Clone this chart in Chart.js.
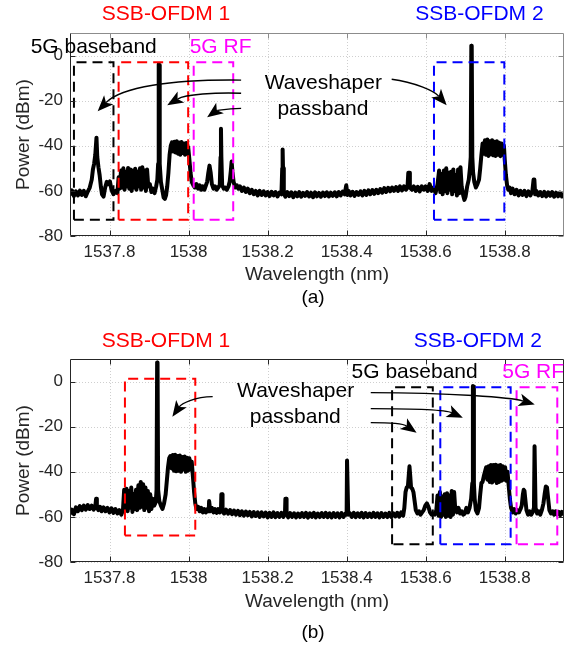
<!DOCTYPE html>
<html>
<head>
<meta charset="utf-8">
<script src="https://cdn.jsdelivr.net/npm/chart.js@4/dist/chart.umd.min.js"></script>
<style>
  html, body { margin: 0; padding: 0; background: #ffffff; }
  #wrap { position: relative; width: 569px; height: 647px; background: #ffffff; }
  canvas { position: absolute; left: 0; }
</style>
</head>
<body>
<div id="wrap">
  <canvas id="chartA" width="569" height="320" style="top:0px"></canvas>
  <canvas id="chartB" width="569" height="327" style="top:320px"></canvas>
</div>
<script>
// ---------------- DATA ----------------
const xTicks = [1537.8, 1538, 1538.2, 1538.4, 1538.6, 1538.8];
const yTicks = [-80, -60, -40, -20, 0];
const xRange = [1537.7, 1538.95];
const yRange = [-80, 10];

// Spectrum (a): [wavelength nm, power dBm]
const spectrumA = [
[1537.700,-61.5],[1537.705,-59.8],[1537.710,-62.3],[1537.715,-60.2],[1537.720,-62.0],[1537.725,-59.9],[1537.730,-61.8],[1537.735,-60.0],[1537.740,-62.4],[1537.745,-60.3],
[1537.750,-58.5],[1537.755,-55.0],[1537.758,-50.5],[1537.761,-48.0],[1537.764,-44.0],[1537.767,-36.4],[1537.769,-45.0],[1537.772,-49.5],[1537.775,-53.0],[1537.778,-58.0],
[1537.781,-61.5],[1537.785,-62.5],[1537.789,-58.5],[1537.793,-56.0],[1537.797,-57.0],[1537.801,-55.8],[1537.805,-59.5],[1537.810,-61.5],[1537.815,-60.0],[1537.820,-61.0],
[1537.823,-54.0],[1537.826,-59.0],[1537.829,-51.0],[1537.832,-58.5],[1537.835,-50.0],[1537.838,-59.5],[1537.841,-51.5],[1537.844,-58.0],[1537.847,-49.8],[1537.850,-59.0],
[1537.853,-50.5],[1537.856,-60.0],[1537.859,-51.0],[1537.862,-58.5],[1537.865,-50.2],[1537.868,-59.5],[1537.871,-51.5],[1537.874,-58.0],[1537.877,-50.0],[1537.880,-59.5],
[1537.883,-49.5],[1537.886,-58.5],[1537.889,-51.0],[1537.892,-60.0],[1537.895,-50.5],[1537.898,-58.0],[1537.902,-57.0],[1537.906,-60.5],[1537.910,-59.0],[1537.914,-61.0],
[1537.918,-58.0],[1537.921,-55.0],[1537.923,-48.0],[1537.9245,-3.8],[1537.9255,-4.2],[1537.927,-48.0],[1537.930,-56.0],[1537.934,-60.0],[1537.937,-63.0],[1537.940,-63.5],
[1537.943,-62.0],[1537.946,-58.0],[1537.949,-52.0],[1537.952,-44.0],[1537.955,-40.0],[1537.958,-38.5],
[1537.961,-42.5],[1537.964,-38.2],[1537.967,-43.0],[1537.970,-38.0],[1537.973,-43.5],[1537.976,-38.5],[1537.979,-44.0],[1537.982,-38.3],[1537.985,-43.2],[1537.988,-39.0],
[1537.991,-44.0],[1537.994,-38.8],[1537.997,-43.5],[1537.999,-40.5],[1538.002,-46.0],[1538.005,-52.0],[1538.008,-56.0],[1538.012,-57.5],[1538.016,-58.5],[1538.020,-57.0],
[1538.024,-59.0],[1538.028,-57.5],[1538.032,-59.5],[1538.036,-58.0],[1538.040,-59.5],[1538.044,-57.5],[1538.047,-56.0],[1538.050,-52.0],[1538.053,-48.8],[1538.056,-52.0],
[1538.059,-57.0],[1538.063,-59.0],[1538.067,-58.0],[1538.071,-59.5],[1538.075,-58.5],[1538.079,-57.5],[1538.081,-45.0],[1538.082,-32.5],[1538.083,-45.0],[1538.085,-57.5],
[1538.089,-59.0],[1538.093,-58.5],[1538.097,-59.5],[1538.101,-58.0],[1538.104,-56.0],[1538.107,-51.0],[1538.109,-47.0],[1538.111,-51.5],[1538.114,-56.0],[1538.118,-58.5],
[1538.122,-57.5],[1538.126,-59.0],[1538.130,-58.0],[1538.135,-60.0],[1538.140,-58.5],[1538.145,-60.5],[1538.150,-59.0],[1538.155,-61.0],[1538.160,-59.5],[1538.165,-61.5],
[1538.170,-60.0],[1538.175,-62.0],[1538.180,-60.0],[1538.185,-61.8],[1538.190,-60.2],[1538.195,-62.0],[1538.200,-60.5],[1538.205,-62.3],[1538.210,-60.4],[1538.215,-62.0],
[1538.220,-60.5],[1538.225,-62.5],[1538.230,-60.8],[1538.235,-61.5],[1538.237,-50.0],[1538.238,-41.6],[1538.239,-50.0],[1538.241,-61.0],[1538.245,-62.6],[1538.250,-60.5],
[1538.255,-62.3],[1538.260,-60.6],[1538.265,-62.8],[1538.270,-60.8],[1538.275,-62.4],[1538.280,-60.5],[1538.285,-62.6],[1538.290,-60.9],[1538.295,-62.2],[1538.300,-60.5],
[1538.305,-62.5],[1538.310,-60.8],[1538.315,-62.8],[1538.320,-60.6],[1538.325,-62.4],[1538.330,-60.9],[1538.335,-62.6],[1538.340,-60.7],[1538.345,-62.3],[1538.350,-60.6],
[1538.355,-62.5],[1538.360,-60.8],[1538.365,-62.2],[1538.370,-60.6],[1538.375,-62.4],[1538.380,-60.5],[1538.385,-62.0],[1538.390,-60.3],[1538.395,-61.5],[1538.399,-57.5],
[1538.402,-61.8],[1538.405,-60.0],[1538.410,-62.0],[1538.415,-60.4],[1538.420,-62.2],[1538.425,-60.5],[1538.430,-61.8],[1538.435,-60.2],[1538.440,-62.0],[1538.445,-60.0],
[1538.450,-61.8],[1538.455,-59.8],[1538.460,-61.5],[1538.465,-59.6],[1538.470,-61.3],[1538.475,-59.5],[1538.480,-61.0],[1538.485,-59.2],[1538.490,-60.8],[1538.495,-58.8],
[1538.500,-60.5],[1538.505,-58.6],[1538.510,-60.2],[1538.515,-58.5],[1538.520,-60.0],[1538.525,-58.3],[1538.530,-60.0],[1538.535,-58.0],[1538.540,-59.8],[1538.545,-58.0],
[1538.550,-59.5],[1538.554,-58.5],[1538.556,-52.0],[1538.558,-52.0],[1538.560,-58.5],[1538.565,-59.5],[1538.570,-58.0],[1538.575,-60.0],[1538.580,-58.2],[1538.585,-60.2],
[1538.590,-58.0],[1538.595,-59.5],[1538.600,-58.0],[1538.605,-60.0],[1538.610,-57.0],[1538.615,-60.0],[1538.620,-58.5],[1538.625,-61.0],[1538.630,-57.0],[1538.634,-51.0],
[1538.637,-60.5],[1538.640,-52.5],[1538.643,-61.5],[1538.646,-51.0],[1538.649,-60.0],[1538.652,-50.0],[1538.655,-61.0],[1538.658,-52.0],[1538.661,-59.5],[1538.664,-51.5],
[1538.667,-61.5],[1538.670,-50.5],[1538.673,-60.0],[1538.676,-53.0],[1538.679,-62.0],[1538.682,-50.5],[1538.685,-61.0],[1538.688,-49.5],[1538.691,-58.0],[1538.695,-62.0],
[1538.698,-64.0],[1538.701,-62.5],[1538.705,-58.0],[1538.709,-55.0],[1538.712,-50.0],[1538.714,-45.0],[1538.7155,4.4],[1538.7165,4.2],[1538.718,-45.0],[1538.720,-52.0],
[1538.723,-56.0],[1538.727,-58.5],[1538.731,-57.0],[1538.735,-55.0],[1538.738,-50.0],[1538.741,-44.0],[1538.744,-39.0],
[1538.747,-43.5],[1538.750,-37.5],[1538.753,-44.0],[1538.756,-37.2],[1538.759,-44.5],[1538.762,-38.0],[1538.765,-43.8],[1538.768,-37.5],[1538.771,-44.2],[1538.774,-38.2],
[1538.777,-44.5],[1538.780,-38.0],[1538.783,-44.0],[1538.786,-38.6],[1538.789,-44.6],[1538.792,-39.0],[1538.795,-44.0],[1538.798,-40.0],[1538.800,-46.0],[1538.803,-53.0],
[1538.806,-57.5],[1538.809,-59.5],[1538.812,-58.5],[1538.816,-61.0],[1538.820,-59.0],[1538.825,-61.5],[1538.830,-59.5],[1538.835,-62.0],[1538.840,-60.0],[1538.845,-61.8],
[1538.850,-60.0],[1538.855,-62.3],[1538.860,-60.2],[1538.865,-62.0],[1538.870,-60.0],[1538.873,-55.0],[1538.875,-55.0],[1538.877,-61.5],[1538.880,-60.0],[1538.885,-62.0],
[1538.890,-60.5],[1538.895,-62.3],[1538.900,-60.4],[1538.905,-62.5],[1538.910,-60.6],[1538.915,-62.2],[1538.920,-60.5],[1538.925,-62.6],[1538.930,-60.8],[1538.935,-62.4],
[1538.940,-60.7],[1538.945,-62.5],[1538.950,-61.3]
];

// Spectrum (b): [wavelength nm, power dBm]
const spectrumB = [
[1537.700,-58.5],[1537.705,-56.8],[1537.710,-58.8],[1537.715,-55.8],[1537.720,-57.5],[1537.725,-55.2],[1537.730,-57.0],[1537.735,-55.0],[1537.740,-56.8],[1537.745,-54.8],
[1537.750,-56.5],[1537.755,-55.0],[1537.760,-56.8],[1537.764,-55.5],[1537.766,-52.0],[1537.768,-55.8],[1537.772,-57.0],[1537.776,-55.5],[1537.780,-57.5],[1537.785,-55.8],
[1537.790,-57.5],[1537.795,-56.0],[1537.800,-58.0],[1537.805,-56.2],[1537.810,-58.2],[1537.815,-56.5],[1537.820,-58.5],[1537.825,-57.0],[1537.830,-59.0],[1537.834,-57.0],
[1537.837,-48.0],[1537.840,-56.5],[1537.843,-47.5],[1537.846,-57.5],[1537.849,-48.5],[1537.852,-56.0],[1537.855,-47.0],[1537.858,-57.8],[1537.861,-50.0],[1537.864,-56.5],
[1537.867,-48.0],[1537.870,-57.0],[1537.873,-46.0],[1537.876,-56.0],[1537.879,-44.5],[1537.882,-55.5],[1537.885,-45.5],[1537.888,-57.0],[1537.891,-47.0],[1537.894,-56.0],
[1537.897,-48.5],[1537.900,-57.5],[1537.903,-50.0],[1537.906,-56.5],[1537.909,-52.0],[1537.913,-55.0],[1537.917,-53.5],[1537.919,-48.0],[1537.9205,8.5],[1537.9215,8.3],
[1537.923,-48.0],[1537.926,-53.0],[1537.930,-55.0],[1537.934,-56.5],[1537.938,-54.0],[1537.942,-50.0],[1537.945,-44.0],[1537.948,-38.0],[1537.951,-34.0],[1537.954,-33.0],
[1537.957,-38.5],[1537.960,-32.6],[1537.963,-39.5],[1537.966,-32.4],[1537.969,-39.8],[1537.972,-33.0],[1537.975,-39.5],[1537.978,-32.8],[1537.981,-40.0],[1537.984,-33.5],
[1537.987,-39.0],[1537.990,-33.2],[1537.993,-40.0],[1537.996,-33.8],[1537.999,-39.5],[1538.002,-34.0],[1538.005,-39.0],[1538.008,-35.5],[1538.011,-42.0],[1538.014,-49.0],
[1538.017,-54.0],[1538.020,-56.5],[1538.024,-55.5],[1538.028,-57.5],[1538.032,-56.0],[1538.036,-58.0],[1538.040,-56.5],[1538.044,-58.0],[1538.048,-56.5],[1538.051,-57.5],
[1538.052,-53.0],[1538.054,-53.0],[1538.055,-57.5],[1538.059,-56.0],[1538.063,-58.0],[1538.067,-56.5],[1538.071,-58.2],[1538.075,-56.5],[1538.079,-58.0],[1538.082,-57.0],
[1538.083,-50.0],[1538.085,-50.0],[1538.086,-57.5],[1538.090,-58.5],[1538.095,-56.8],[1538.100,-58.6],[1538.105,-57.0],[1538.110,-58.8],[1538.115,-57.2],[1538.120,-59.0],
[1538.125,-57.3],[1538.130,-59.2],[1538.135,-57.5],[1538.140,-59.5],[1538.145,-57.6],[1538.150,-59.3],[1538.155,-57.8],[1538.160,-59.8],[1538.165,-57.9],[1538.170,-59.6],
[1538.175,-58.0],[1538.180,-60.0],[1538.185,-58.0],[1538.190,-59.8],[1538.195,-58.1],[1538.200,-60.2],[1538.205,-58.2],[1538.210,-60.0],[1538.215,-58.0],[1538.220,-60.1],
[1538.225,-58.3],[1538.230,-60.0],[1538.235,-58.2],[1538.240,-60.0],[1538.244,-58.5],[1538.245,-52.0],[1538.247,-52.0],[1538.248,-58.5],[1538.252,-60.2],[1538.257,-58.3],
[1538.262,-60.0],[1538.267,-58.4],[1538.272,-60.2],[1538.277,-58.5],[1538.282,-60.1],[1538.287,-58.3],[1538.292,-60.0],[1538.297,-58.2],[1538.302,-60.3],[1538.307,-58.4],
[1538.312,-60.0],[1538.317,-58.2],[1538.322,-60.2],[1538.327,-58.5],[1538.332,-60.1],[1538.337,-58.3],[1538.342,-60.0],[1538.347,-58.2],[1538.352,-60.1],[1538.357,-58.4],
[1538.362,-60.2],[1538.367,-58.3],[1538.372,-60.0],[1538.377,-58.4],[1538.382,-60.2],[1538.387,-58.3],[1538.392,-60.0],[1538.397,-58.5],[1538.400,-59.0],[1538.401,-35.0],
[1538.403,-35.0],[1538.404,-59.0],[1538.408,-58.3],[1538.413,-60.0],[1538.418,-58.2],[1538.423,-60.1],[1538.428,-58.4],[1538.433,-60.0],[1538.438,-58.2],[1538.443,-60.2],
[1538.448,-58.3],[1538.453,-60.0],[1538.458,-58.5],[1538.463,-60.1],[1538.468,-58.2],[1538.473,-60.0],[1538.478,-58.4],[1538.483,-60.2],[1538.488,-58.3],[1538.493,-60.0],
[1538.498,-58.5],[1538.503,-60.1],[1538.508,-58.2],[1538.513,-60.0],[1538.518,-58.4],[1538.523,-59.8],[1538.528,-58.2],[1538.533,-59.9],[1538.538,-58.0],[1538.543,-59.5],
[1538.546,-56.0],[1538.549,-49.0],[1538.552,-47.0],[1538.555,-46.5],[1538.557,-42.0],[1538.559,-37.6],[1538.561,-42.0],[1538.563,-47.0],[1538.566,-47.5],[1538.569,-49.0],
[1538.572,-53.0],[1538.575,-57.0],[1538.579,-58.5],[1538.583,-57.5],[1538.587,-59.0],[1538.591,-58.0],[1538.595,-57.0],[1538.599,-55.0],[1538.603,-54.0],[1538.607,-55.5],
[1538.611,-58.0],[1538.615,-59.0],[1538.619,-58.5],[1538.623,-59.0],[1538.627,-57.0],
[1538.630,-50.5],[1538.633,-59.5],[1538.636,-49.0],[1538.639,-60.0],[1538.642,-51.0],[1538.645,-59.0],[1538.648,-50.0],[1538.651,-60.0],[1538.654,-49.5],[1538.657,-59.5],
[1538.660,-50.5],[1538.663,-60.0],[1538.666,-48.5],[1538.669,-59.0],[1538.672,-49.0],[1538.675,-57.0],[1538.679,-58.0],[1538.683,-56.0],[1538.687,-58.5],[1538.691,-57.5],
[1538.695,-59.0],[1538.699,-58.5],[1538.703,-56.0],[1538.707,-58.0],[1538.711,-56.0],[1538.715,-52.0],[1538.718,-45.0],[1538.7195,-2.0],[1538.7205,-2.2],[1538.722,-45.0],
[1538.724,-52.0],[1538.727,-57.0],[1538.731,-58.5],[1538.735,-56.0],[1538.738,-50.0],[1538.741,-45.0],[1538.744,-44.5],[1538.747,-42.0],[1538.750,-40.0],[1538.753,-38.0],
[1538.756,-43.5],[1538.759,-37.5],[1538.762,-44.5],[1538.765,-37.0],[1538.768,-44.8],[1538.771,-37.0],[1538.774,-44.0],[1538.777,-36.9],[1538.780,-45.0],[1538.783,-37.2],
[1538.786,-44.5],[1538.789,-37.0],[1538.792,-44.0],[1538.795,-37.5],[1538.798,-43.5],[1538.801,-38.0],[1538.804,-44.0],[1538.807,-40.0],[1538.810,-46.0],[1538.813,-52.0],
[1538.816,-56.0],[1538.820,-58.0],[1538.824,-56.5],[1538.828,-58.5],[1538.832,-57.0],[1538.836,-58.0],[1538.840,-56.5],[1538.843,-55.0],[1538.846,-50.0],[1538.848,-48.0],
[1538.850,-48.5],[1538.852,-52.0],[1538.855,-57.0],[1538.859,-59.0],[1538.863,-57.5],[1538.867,-59.0],[1538.871,-57.8],[1538.874,-56.0],[1538.8755,-28.7],[1538.8765,-28.7],
[1538.878,-56.0],[1538.882,-58.5],[1538.886,-57.5],[1538.890,-59.0],[1538.894,-57.0],[1538.898,-54.0],[1538.901,-50.0],[1538.904,-46.5],[1538.907,-47.0],[1538.910,-52.0],
[1538.913,-57.0],[1538.917,-58.5],[1538.921,-57.5],[1538.925,-59.0],[1538.929,-57.5],[1538.933,-59.0],[1538.937,-57.8],[1538.941,-59.2],[1538.945,-57.8],[1538.950,-58.8]
];

// Waveshaper passband boxes: [xStart, xEnd, yBottom, yTop, colour]
const boxesA = [
  [1537.710, 1537.810, -72.8, -3.0, '#000000'],
  [1537.823, 1537.999, -72.8, -3.0, '#ff0000'],
  [1538.013, 1538.113, -72.8, -3.0, '#ff00ff'],
  [1538.621, 1538.799, -72.8, -3.0, '#0000ff']
];
const boxesB = [
  [1537.839, 1538.017, -68.3, 1.2, '#ff0000'],
  [1538.515, 1538.618, -72.1, -2.5, '#000000'],
  [1538.637, 1538.815, -72.1, -2.5, '#0000ff'],
  [1538.830, 1538.933, -72.1, -2.5, '#ff00ff']
];

// Text annotations: [text, x (nm), y (dBm), colour, align]
const labelsA = [
  ['SSB-OFDM 1', 1537.943, 18.5, '#ff0000', 'center'],
  ['SSB-OFDM 2', 1538.736, 18.5, '#0000ff', 'center'],
  ['5G baseband', 1537.760, 3.9, '#000000', 'center'],
  ['5G RF', 1538.081, 3.9, '#ff00ff', 'center'],
  ['Waveshaper', 1538.341, -12.2, '#000000', 'center'],
  ['passband', 1538.340, -23.8, '#000000', 'center']
];
const labelsB = [
  ['SSB-OFDM 1', 1537.943, 17.9, '#ff0000', 'center'],
  ['SSB-OFDM 2', 1538.732, 17.9, '#0000ff', 'center'],
  ['5G baseband', 1538.572, 4.3, '#000000', 'center'],
  ['5G RF', 1538.872, 4.3, '#ff00ff', 'center'],
  ['Waveshaper', 1538.271, -4.4, '#000000', 'center'],
  ['passband', 1538.270, -16.0, '#000000', 'center']
];

// Arrows: bezier [start, control1, control2, tip] in (nm, dBm)
const arrowsA = [
  [[1538.133,-10.9],[1537.955,-10.5],[1537.829,-14.0],[1537.770,-24.7]],
  [[1538.133,-16.7],[1538.068,-16.3],[1537.992,-17.2],[1537.946,-22.0]],
  [[1538.133,-23.4],[1538.093,-23.4],[1538.068,-24.7],[1538.047,-27.4]],
  [[1538.514,-10.5],[1538.572,-11.8],[1538.622,-15.8],[1538.653,-22.0]]
];
const arrowsB = [
  [[1538.061,-6.7],[1538.015,-6.7],[1537.982,-9.8],[1537.959,-15.6]],
  [[1538.461,-4.9],[1538.666,-4.9],[1538.818,-7.1],[1538.876,-10.2]],
  [[1538.461,-12.0],[1538.585,-12.0],[1538.648,-12.4],[1538.694,-16.0]],
  [[1538.461,-18.2],[1538.522,-18.2],[1538.547,-19.1],[1538.577,-22.7]]
];

// ---------------- RENDERING ----------------
const FONT = "'Liberation Sans', Arial, Helvetica, sans-serif";

function overlayPlugin(cfg) {
  return {
    id: 'overlay_' + cfg.name,
    beforeDatasetsDraw(chart) {
      const {ctx, chartArea: a, scales: {x, y}} = chart;
      ctx.save();
      ctx.strokeStyle = '#cfcfcf';
      ctx.lineWidth = 1;
      ctx.setLineDash([1, 2]);
      x.ticks.forEach(t => {
        const px = Math.round(x.getPixelForValue(t.value)) + 0.5;
        ctx.beginPath(); ctx.moveTo(px, a.top); ctx.lineTo(px, a.bottom); ctx.stroke();
      });
      y.ticks.forEach(t => {
        const py = Math.round(y.getPixelForValue(t.value)) + 0.5;
        ctx.beginPath(); ctx.moveTo(a.left, py); ctx.lineTo(a.right, py); ctx.stroke();
      });
      ctx.restore();
    },
    afterDatasetsDraw(chart) {
      const {ctx, chartArea: a, scales: {x, y}} = chart;
      const P = (p) => [x.getPixelForValue(p[0]), y.getPixelForValue(p[1])];
      ctx.save();
      // frame
      const L = Math.round(a.left) + 0.5, R = Math.round(a.right) - 0.5;
      const T = Math.round(a.top) + 0.5, B = Math.round(a.bottom) - 0.5;
      ctx.lineWidth = 1;
      ctx.strokeStyle = cfg.topColor;
      ctx.beginPath(); ctx.moveTo(L, T); ctx.lineTo(R, T); ctx.lineTo(R, B); ctx.stroke();
      ctx.strokeStyle = '#262626';
      ctx.beginPath(); ctx.moveTo(L, T); ctx.lineTo(L, B); ctx.lineTo(R, B); ctx.stroke();
      // inward ticks
      const tl = 5;
      x.ticks.forEach(t => {
        const px = Math.round(x.getPixelForValue(t.value)) + 0.5;
        ctx.strokeStyle = '#262626';
        ctx.beginPath(); ctx.moveTo(px, B); ctx.lineTo(px, B - tl); ctx.stroke();
        ctx.strokeStyle = cfg.topColor;
        ctx.beginPath(); ctx.moveTo(px, T); ctx.lineTo(px, T + tl); ctx.stroke();
      });
      y.ticks.forEach(t => {
        const py = Math.round(y.getPixelForValue(t.value)) + 0.5;
        ctx.strokeStyle = '#262626';
        ctx.beginPath(); ctx.moveTo(L, py); ctx.lineTo(L + tl, py); ctx.stroke();
        ctx.strokeStyle = cfg.topColor;
        ctx.beginPath(); ctx.moveTo(R, py); ctx.lineTo(R - tl, py); ctx.stroke();
      });
      // arrows
      ctx.strokeStyle = '#000'; ctx.fillStyle = '#000'; ctx.lineWidth = 1.4;
      cfg.arrows.forEach(arr => {
        const [p0, c1, c2, p3] = arr.map(P);
        let dx = p3[0] - c2[0], dy = p3[1] - c2[1];
        const len = Math.hypot(dx, dy); dx /= len; dy /= len;
        const hl = 16, hw = 6.5, notch = 12;
        ctx.beginPath();
        ctx.moveTo(p0[0], p0[1]);
        ctx.bezierCurveTo(c1[0], c1[1], c2[0], c2[1], p3[0] - dx * notch, p3[1] - dy * notch);
        ctx.stroke();
        const bx = p3[0] - dx * hl, by = p3[1] - dy * hl;
        ctx.beginPath();
        ctx.moveTo(p3[0], p3[1]);
        ctx.lineTo(bx - dy * hw, by + dx * hw);
        ctx.lineTo(p3[0] - dx * notch, p3[1] - dy * notch);
        ctx.lineTo(bx + dy * hw, by - dx * hw);
        ctx.closePath();
        ctx.fill();
      });
      // text labels
      ctx.font = '21px ' + FONT;
      ctx.textBaseline = 'middle';
      cfg.labels.forEach(([txt, lx, ly, col, al]) => {
        const [px, py] = P([lx, ly]);
        ctx.fillStyle = col; ctx.textAlign = al;
        ctx.fillText(txt, px, py);
      });
      // panel label
      ctx.font = '19px ' + FONT;
      ctx.fillStyle = '#000'; ctx.textAlign = 'center';
      ctx.fillText(cfg.panel, (a.left + a.right) / 2 - 4, a.bottom + cfg.panelDy);
      ctx.restore();
    }
  };
}

function makeChart(id, cfg) {
  const datasets = cfg.boxes.map(([x0, x1, y0, y1, col]) => ({
    data: [{x: x0, y: y0}, {x: x0, y: y1}, {x: x1, y: y1}, {x: x1, y: y0}, {x: x0, y: y0}],
    showLine: true, borderColor: col, borderWidth: 2, borderDash: [10, 6],
    pointRadius: 0, fill: false, order: 0, tension: 0
  }));
  datasets.push({
    data: cfg.spectrum.map(([wx, wy]) => ({x: wx, y: wy})),
    showLine: true, borderColor: '#000000', borderWidth: 4, borderJoinStyle: 'round',
    borderCapStyle: 'round', pointRadius: 0, fill: false, order: 10, tension: 0
  });
  return new Chart(document.getElementById(id), {
    type: 'scatter',
    data: {datasets},
    options: {
      responsive: false, animation: false, devicePixelRatio: 1,
      layout: {padding: {left: 0, right: 5, top: cfg.top, bottom: 0}},
      plugins: {legend: {display: false}, tooltip: {enabled: false}, title: {display: false}},
      scales: {
        x: {
          type: 'linear', min: xRange[0], max: xRange[1],
          afterBuildTicks: s => { s.ticks = xTicks.map(v => ({value: v})); },
          afterFit: s => { s.height = cfg.xh; },
          grid: {display: false, drawTicks: false}, border: {display: false},
          ticks: {color: '#262626', font: {family: FONT, size: 17}, padding: 6, maxRotation: 0,
                  callback: v => String(+Number(v).toFixed(1))},
          title: {display: true, text: 'Wavelength (nm)', color: '#262626',
                  font: {family: FONT, size: 19}, padding: {top: 0, bottom: cfg.xtPad}}
        },
        y: {
          type: 'linear', min: yRange[0], max: yRange[1],
          afterBuildTicks: s => { s.ticks = yTicks.map(v => ({value: v})); },
          afterFit: s => { s.width = 70; },
          grid: {display: false, drawTicks: false}, border: {display: false},
          ticks: {color: '#262626', font: {family: FONT, size: 17}, padding: 7,
                  callback: v => String(v)},
          title: {display: true, text: 'Power (dBm)', color: '#262626',
                  font: {family: FONT, size: 19}, padding: {top: 12, bottom: 0}}
        }
      }
    },
    plugins: [overlayPlugin(cfg)]
  });
}

makeChart('chartA', {name: 'a', spectrum: spectrumA, boxes: boxesA, arrows: arrowsA, labels: labelsA,
  top: 33, xh: 84, xtPad: 34, topColor: '#8c8c8c', panel: '(a)', panelDy: 62});
makeChart('chartB', {name: 'b', spectrum: spectrumB, boxes: boxesB, arrows: arrowsB, labels: labelsB,
  top: 39, xh: 85, xtPad: 34, topColor: '#262626', panel: '(b)', panelDy: 71});
</script>
</body>
</html>
